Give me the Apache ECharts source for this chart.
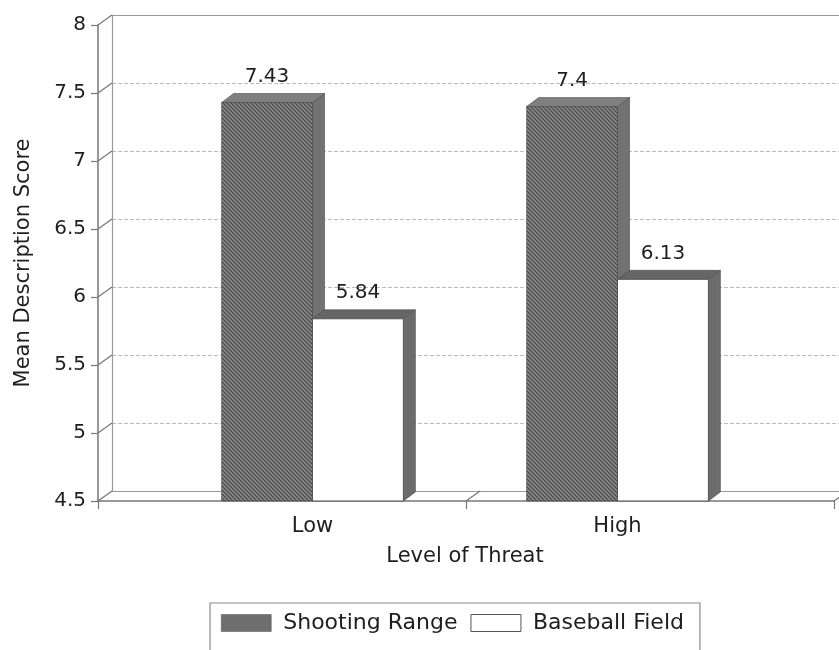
<!DOCTYPE html>
<html>
<head>
<meta charset="utf-8">
<script src="https://cdn.jsdelivr.net/npm/echarts@6/dist/echarts.min.js"></script>
<style>
html,body{margin:0;padding:0;background:#fff;}
#chart{width:839px;height:650px;}
</style>
</head>
<body>
<div id="chart"></div>
<script>
// ---- data ----
const categories = ['Low', 'High'];
const shootingRange = [7.43, 7.4];
const baseballField = [5.84, 6.13];
const yTicks = [4.5, 5, 5.5, 6, 6.5, 7, 7.5, 8];
const yMin = 4.5, yMax = 8, yStep = 0.5;

const FONT = '"DejaVu Sans", "Liberation Sans", Arial, sans-serif';
const TXT = '#1e1e1e';
const AX = '#777777';
const WALL_DX = 14, WALL_DY = -10;
const BAR_DX = 12, BAR_DY = -9;

// hatch pattern for the dark bars
function makeHatch() {
  const c = document.createElement('canvas');
  c.width = 4; c.height = 4;
  const g = c.getContext('2d');
  g.fillStyle = '#888888';
  g.fillRect(0, 0, 4, 4);
  g.strokeStyle = '#454545';
  g.lineWidth = 1.1;
  g.beginPath();
  g.moveTo(-1, -1); g.lineTo(5, 5);
  g.moveTo(-1, 3); g.lineTo(1, 5);
  g.moveTo(3, -1); g.lineTo(5, 1);
  g.stroke();
  return c;
}
const hatch = { image: makeHatch(), repeat: 'repeat' };

function barRender(seriesIdx, look) {
  return function (params, api) {
    const i = api.value(0), v = api.value(1);
    const topPt = api.coord([i, v]);
    const basePt = api.coord([i, yMin]);
    const band = api.size([1, 0])[0];
    const w = band * 0.298;
    const L = topPt[0] - w + seriesIdx * w;
    const R = L + w;
    const T = topPt[1], B = basePt[1];
    return {
      type: 'group',
      children: [
        { type: 'polygon', shape: { points: [[R, T], [R + BAR_DX, T + BAR_DY], [R + BAR_DX, B + BAR_DY], [R, B]] },
          style: { fill: look.side, stroke: '#4a4a4a', lineWidth: 0.6 } },
        { type: 'polygon', shape: { points: [[L, T], [L + BAR_DX, T + BAR_DY], [R + BAR_DX, T + BAR_DY], [R, T]] },
          style: { fill: look.top, stroke: '#4a4a4a', lineWidth: 0.6 } },
        { type: 'rect', shape: { x: L, y: T, width: w, height: B - T },
          style: { fill: look.front, stroke: look.stroke, lineWidth: look.lw } },
        { type: 'text', style: { text: String(v), x: L + w / 2, y: T + BAR_DY - 7, align: 'center', verticalAlign: 'bottom',
          font: '20px ' + FONT, fill: TXT } }
      ]
    };
  };
}

const chart = echarts.init(document.getElementById('chart'), null, { renderer: 'canvas' });

const option = {
  backgroundColor: '#fff',
  animation: false,
  grid: [
    { left: 98, right: 5, top: 25, bottom: 149 },     // front axes
    { left: 160, right: 69, top: 25, bottom: 149 },   // bars
    { left: 112, right: -9, top: 15, bottom: 159 }    // back wall
  ],
  xAxis: [
    { gridIndex: 0, type: 'category', data: categories, z: 3,
      axisLine: { lineStyle: { color: AX, width: 1.5 } },
      axisTick: { show: true, length: 8, lineStyle: { color: AX, width: 1.2 } },
      axisLabel: { show: false }, splitLine: { show: false } },
    { gridIndex: 1, type: 'category', data: categories,
      axisLine: { show: false }, axisTick: { show: false },
      axisLabel: { fontSize: 21, margin: 15, color: TXT, fontFamily: FONT },
      name: 'Level of Threat', nameLocation: 'middle', nameGap: 45,
      nameTextStyle: { fontSize: 21, color: TXT, fontFamily: FONT } },
    { gridIndex: 2, type: 'category', data: categories, z: 1,
      axisLine: { lineStyle: { color: '#9a9a9a', width: 1.2 } }, axisTick: { show: false },
      axisLabel: { show: false } },
    { gridIndex: 2, type: 'category', data: categories, position: 'top', z: 1,
      axisLine: { lineStyle: { color: '#9a9a9a', width: 1.2 } }, axisTick: { show: false },
      axisLabel: { show: false } }
  ],
  yAxis: [
    { gridIndex: 0, type: 'value', min: yMin, max: yMax, interval: yStep, z: 3,
      axisLine: { show: true, lineStyle: { color: AX, width: 1.5 } },
      axisTick: { show: true, length: 7, lineStyle: { color: AX, width: 1.2 } },
      axisLabel: { fontSize: 20, margin: 12, color: TXT, fontFamily: FONT },
      splitLine: { show: false },
      name: 'Mean Description Score', nameLocation: 'middle', nameGap: 64, nameRotate: 90,
      nameTextStyle: { fontSize: 21, color: TXT, fontFamily: FONT } },
    { gridIndex: 1, type: 'value', min: yMin, max: yMax, interval: yStep, show: false },
    { gridIndex: 2, type: 'value', min: yMin, max: yMax, interval: yStep, z: 1,
      axisLine: { show: true, lineStyle: { color: '#9a9a9a', width: 1.2 } },
      axisTick: { show: false }, axisLabel: { show: false },
      splitLine: { show: true, lineStyle: { color: '#bcbcbc', width: 1, type: [4, 2] } } }
  ],
  legend: {
    left: 210, top: 603, orient: 'horizontal',
    itemWidth: 50, itemHeight: 17, itemGap: 13,
    padding: [9, 16, 30, 11],
    borderColor: '#8a8a8a', borderWidth: 1.2,
    textStyle: { fontSize: 22, color: TXT, fontFamily: FONT, padding: [0, 0, 0, 7] },
    selectedMode: false,
    data: [
      { name: 'Shooting Range', icon: 'rect', itemStyle: { color: '#6e6e6e', borderColor: '#555', borderWidth: 0.5 } },
      { name: 'Baseball Field', icon: 'rect', itemStyle: { color: '#fff', borderColor: '#555', borderWidth: 1 } }
    ]
  },
  series: [
    { // y tick depth connectors
      type: 'custom', xAxisIndex: 0, yAxisIndex: 0, silent: true, z: 2,
      data: yTicks.map(v => [0, v]),
      renderItem: function (params, api) {
        const cs = params.coordSys;
        const y = api.coord([0, api.value(1)])[1];
        return { type: 'line', shape: { x1: cs.x, y1: y, x2: cs.x + WALL_DX, y2: y + WALL_DY },
                 style: { stroke: AX, lineWidth: 1.2 } };
      }
    },
    { // category boundary depth connectors
      type: 'custom', xAxisIndex: 0, yAxisIndex: 0, silent: true, z: 2,
      data: categories.map((c, k) => [k + 1, yMin]),
      renderItem: function (params, api) {
        const cs = params.coordSys;
        const x = cs.x + cs.width * api.value(0) / categories.length;
        const y = api.coord([0, yMin])[1];
        return { type: 'line', shape: { x1: x, y1: y, x2: x + WALL_DX, y2: y + WALL_DY },
                 style: { stroke: AX, lineWidth: 1.2 } };
      }
    },
    {
      name: 'Shooting Range', type: 'custom', xAxisIndex: 1, yAxisIndex: 1, z: 5,
      itemStyle: { color: '#6e6e6e' },
      data: shootingRange.map((v, i) => [i, v]),
      renderItem: barRender(0, { front: hatch, top: '#808080', side: '#727272', stroke: '#444', lw: 0.6 })
    },
    {
      name: 'Baseball Field', type: 'custom', xAxisIndex: 1, yAxisIndex: 1, z: 6,
      itemStyle: { color: '#fff' },
      data: baseballField.map((v, i) => [i, v]),
      renderItem: barRender(1, { front: '#ffffff', top: '#666666', side: '#6c6c6c', stroke: '#555', lw: 1 })
    }
  ]
};
chart.setOption(option);
</script>
</body>
</html>
